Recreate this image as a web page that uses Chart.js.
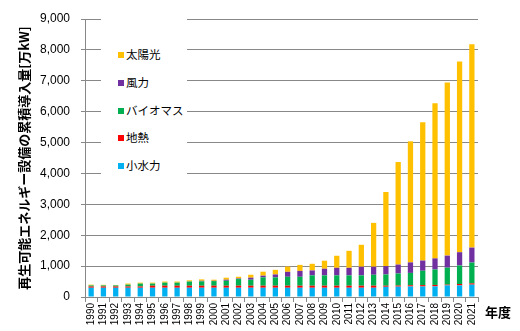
<!DOCTYPE html>
<html lang="ja">
<head>
<meta charset="UTF-8">
<title>再生可能エネルギー設備の累積導入量</title>
<script src="https://cdn.jsdelivr.net/npm/chart.js"></script>
<style>
  body { margin: 0; background: #fff; }
  #wrap { position: relative; width: 520px; height: 331px; }
  #legend {
    position: absolute; left: 101px; top: 15px; width: 86px; height: 170px;
    background: #fff; font-family: 'Noto Sans CJK JP', sans-serif; font-size: 11.5px; color: #000;
  }
  .item { position: absolute; left: 17px; height: 16px; line-height: 16px; white-space: nowrap; }
  .item i { display: inline-block; width: 6px; height: 6px; margin-right: 2px; vertical-align: 1px; }
  #unit {
    position: absolute; left: 485px; top: 302px;
    font-family: 'Noto Sans CJK JP', sans-serif; font-weight: bold; font-size: 13px;
  }
</style>
</head>
<body>
<div id="wrap">
  <canvas id="chart" width="520" height="331"></canvas>
  <div id="legend"></div>
  <div id="unit">年度</div>
</div>
<script>
  const years = ['1990','1991','1992','1993','1994','1995','1996','1997','1998','1999',
    '2000','2001','2002','2003','2004','2005','2006','2007','2008','2009',
    '2010','2011','2012','2013','2014','2015','2016','2017','2018','2019','2020','2021'];

  // 万kW
  const hydro = [300,300,300,300,300,300,300,300,300,300,300,300,300,300,300,300,
    300,300,300,300,300,300,300,300,330,335,340,340,345,375,375,400];
  const geo = [40,40,40,40,40,65,65,65,65,65,65,65,65,65,65,65,
    65,65,65,65,65,65,65,65,35,35,40,45,45,25,45,40];
  const bio = [35,35,35,60,95,70,100,100,135,140,150,160,215,195,270,270,
    290,290,335,335,335,335,335,355,365,390,400,465,500,550,600,675];
  const wind = [0,0,0,0,0,0,0,0,5,20,10,35,20,65,55,95,
    160,190,160,215,245,245,280,260,270,290,340,330,360,390,430,485];
  const solar = [25,20,15,35,30,30,35,35,35,45,35,65,55,95,130,150,
    170,195,215,260,390,550,710,1420,2400,3320,3920,4475,5020,5605,6175,6585];

  const names = ['小水力', '地熱', 'バイオマス', '風力', '太陽光'];
  const colors = ['#00B0F0', '#FF0000', '#00B050', '#7030A0', '#FFC000'];
  const series = [hydro, geo, bio, wind, solar];

  const grid = '#888888';
  const jp = "'Noto Sans CJK JP', sans-serif";

  new Chart(document.getElementById('chart'), {
    type: 'bar',
    data: {
      labels: years,
      datasets: series.map((d, i) => ({
        label: names[i],
        data: d,
        backgroundColor: colors[i],
        borderWidth: 0,
        categoryPercentage: 1,
        barPercentage: 0.43
      }))
    },
    options: {
      responsive: false,
      animation: false,
      layout: { padding: { top: 19, right: 42, left: 0, bottom: 0 } },
      plugins: {
        legend: { display: false },
        tooltip: { enabled: false }
      },
      scales: {
        x: {
          stacked: true,
          afterFit: s => { s.height = 34; },
          grid: { drawOnChartArea: false, color: grid, tickLength: 5, offset: true },
          border: { color: grid },
          ticks: {
            autoSkip: false, minRotation: 90, maxRotation: 90, padding: 1,
            color: '#000', font: { family: 'Liberation Sans', size: 10 }
          }
        },
        y: {
          stacked: true,
          min: 0, max: 9000,
          afterFit: s => { s.width = 85; },
          grid: { color: grid, tickLength: 4 },
          border: { color: grid },
          ticks: {
            stepSize: 1000, padding: 11, color: '#000',
            font: { family: 'Liberation Sans', size: 12 },
            callback: v => v.toLocaleString('en-US')
          },
          title: {
            display: true,
            text: '再生可能エネルギー設備の累積導入量[万kW]',
            color: '#000',
            font: { family: jp, size: 13, weight: 'bold' },
            padding: { top: 16, bottom: 0 }
          }
        }
      }
    }
  });

  // legend, top item = last series
  const lg = document.getElementById('legend');
  for (let k = 0; k < names.length; k++) {
    const i = names.length - 1 - k;
    const el = document.createElement('div');
    el.className = 'item';
    el.style.top = (54 - 15 - 8 + k * 27.75) + 'px';
    el.innerHTML = '<i style="background:' + colors[i] + '"></i>' + names[i];
    lg.appendChild(el);
  }
</script>
</body>
</html>
